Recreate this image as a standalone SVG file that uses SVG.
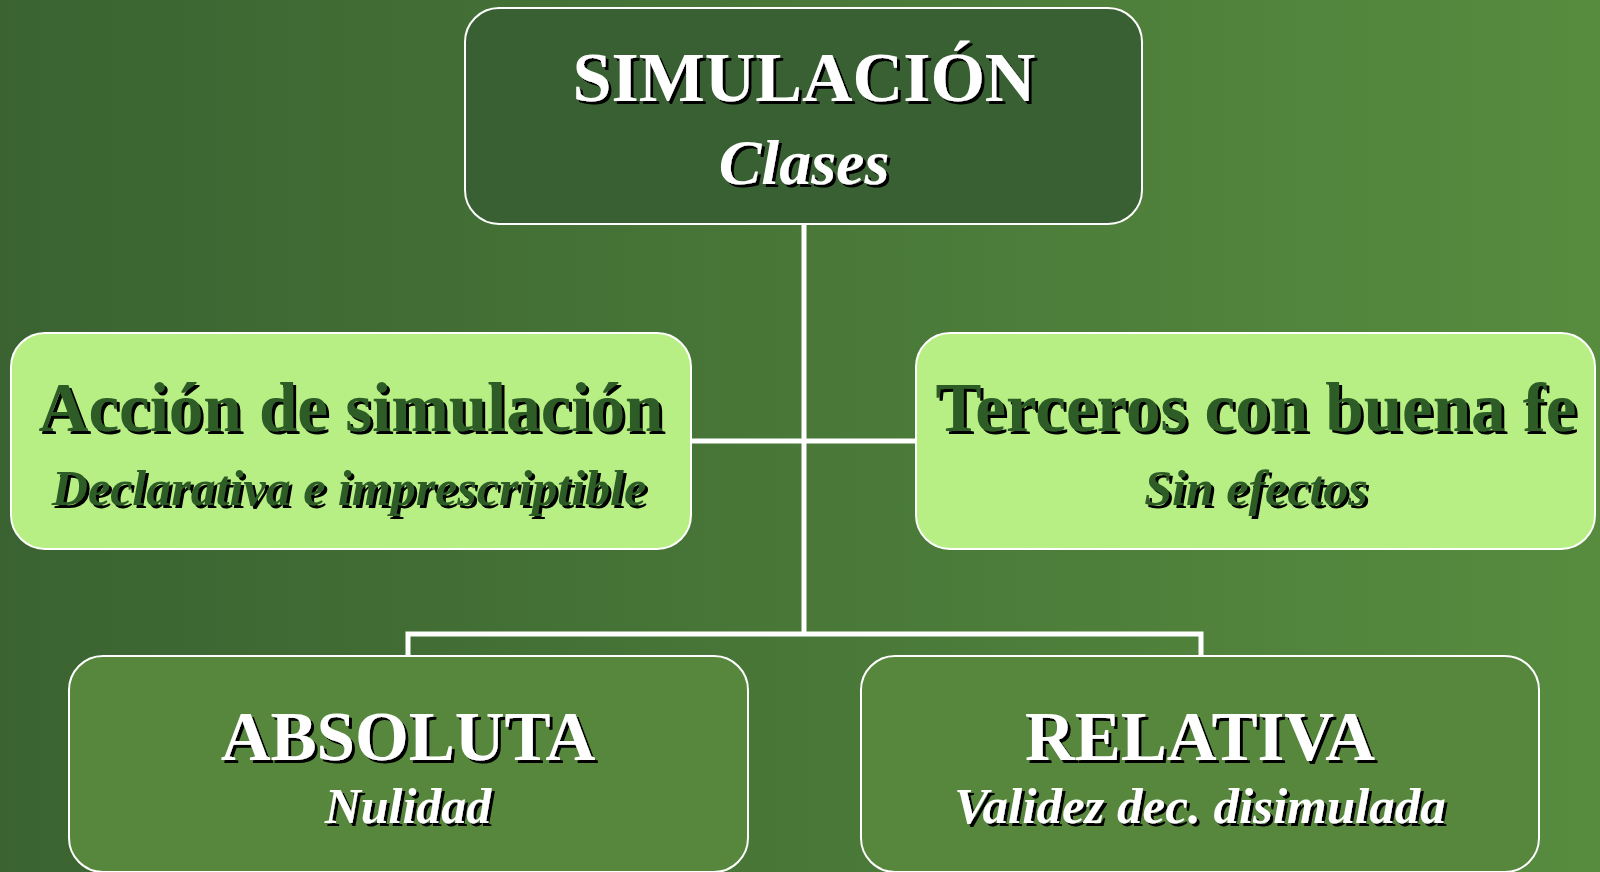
<svg xmlns="http://www.w3.org/2000/svg" width="1600" height="872" viewBox="0 0 1600 872">
<defs>
<linearGradient id="bg" x1="0" y1="0" x2="1" y2="0">
<stop offset="0" stop-color="#3a6331"/>
<stop offset="1" stop-color="#578c3f"/>
</linearGradient>
<filter id="sh" x="-5%" y="-20%" width="110%" height="140%">
<feOffset in="SourceAlpha" dx="3" dy="3" result="o"/>
<feMerge><feMergeNode in="o"/><feMergeNode in="SourceGraphic"/></feMerge>
</filter>
<style>
.box{stroke:#ffffff;stroke-width:2}
.top{fill:#386032}
.mid{fill:#b7ef84}
.bot{fill:#56873d}
.t{font-family:"Liberation Serif","Times New Roman",serif;font-weight:bold;text-anchor:middle;filter:url(#sh)}
.i{font-style:italic}
.w{fill:#ffffff}
.g{fill:#2f5b28}
.conn{stroke:#ffffff;stroke-width:5;fill:none}
</style>
</defs>
<rect width="1600" height="872" fill="url(#bg)"/>
<g id="connectors">
<path class="conn" d="M804 224 V634"/>
<path class="conn" d="M691 441 H916"/>
<path class="conn" d="M408 656 V634 H1201 V656"/>
</g>
<g id="node-simulacion">
<rect class="box top" x="465" y="8" width="677" height="216" rx="34"/>
<text class="t w" x="804" y="101" font-size="70">SIMULACIÓN</text>
<text class="t w i" x="804" y="184" font-size="64">Clases</text>
</g>
<g id="node-accion">
<rect class="box mid" x="11" y="333" width="680" height="216" rx="34"/>
<text class="t g" x="351" y="431" font-size="69">Acción de simulación</text>
<text class="t g i" x="349" y="505" font-size="50">Declarativa e imprescriptible</text>
</g>
<g id="node-terceros">
<rect class="box mid" x="916" y="333" width="679" height="216" rx="34"/>
<text class="t g" x="1256" y="431" font-size="69">Terceros con buena fe</text>
<text class="t g i" x="1256" y="505" font-size="50">Sin efectos</text>
</g>
<g id="node-absoluta">
<rect class="box bot" x="69" y="656" width="679" height="216" rx="34"/>
<text class="t w" x="408" y="760" font-size="69">ABSOLUTA</text>
<text class="t w i" x="408" y="823" font-size="50">Nulidad</text>
</g>
<g id="node-relativa">
<rect class="box bot" x="861" y="656" width="678" height="216" rx="34"/>
<text class="t w" x="1200" y="760" font-size="69">RELATIVA</text>
<text class="t w i" x="1200" y="823" font-size="51">Validez dec. disimulada</text>
</g>
</svg>
